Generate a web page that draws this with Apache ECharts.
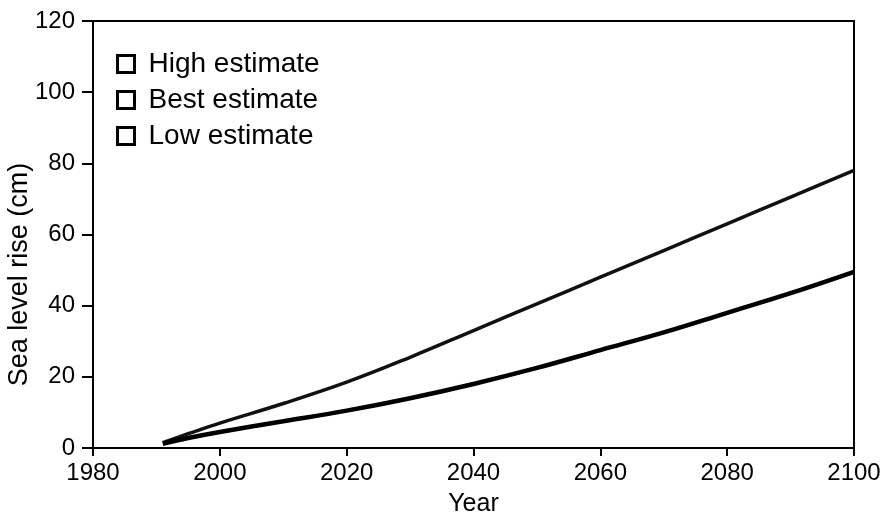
<!DOCTYPE html>
<html>
<head>
<meta charset="utf-8">
<script src="https://cdn.jsdelivr.net/npm/echarts@6/dist/echarts.min.js"></script>
<style>html,body{margin:0;padding:0;background:#fff;}#c{width:882px;height:525px;}</style>
</head>
<body>
<div id="c"></div>
<script>
var seriesNames = ['High estimate', 'Best estimate', 'Low estimate'];
var years = [1991, 1995, 2000, 2010, 2020, 2030, 2040, 2050, 2060, 2070, 2080, 2090, 2100];
var highValues = [1.5, 4, 7, 12.5, 18.5, 25.5, 33, 40.5, 48, 55.5, 63, 70.5, 78];
var bestValues = [1.2, 2.8, 4.5, 7.5, 10.5, 14, 18, 22.5, 27.5, 32.5, 38, 43.5, 49.5];
var lowValues = [];
var xTicks = [1980, 2000, 2020, 2040, 2060, 2080, 2100];
var yTicks = [0, 20, 40, 60, 80, 100, 120];

function pairs(xs, ys) { return ys.map(function (v, i) { return [xs[i], v]; }); }

var font = 'Liberation Sans, Arial, sans-serif';
var chart = echarts.init(document.getElementById('c'));
chart.setOption({
  animation: false,
  backgroundColor: '#fff',
  grid: { left: 93, right: 28, top: 21, bottom: 77, show: true, borderColor: '#000', borderWidth: 2, outerBoundsMode: 'none', containLabel: false },
  legend: {
    orient: 'vertical', left: 111, top: 45, itemGap: 8,
    icon: 'rect', itemWidth: 17, itemHeight: 17,
    itemStyle: { color: '#fff', borderColor: '#000', borderWidth: 3 },
    textStyle: { fontFamily: font, fontSize: 28, color: '#000', padding: [0, 0, 0, 9] },
    data: seriesNames
  },
  xAxis: {
    type: 'value', min: xTicks[0], max: xTicks[xTicks.length - 1], interval: 20,
    name: 'Year', nameLocation: 'middle', nameGap: 44, nameMoveOverlap: false,
    nameTextStyle: { fontFamily: font, fontSize: 25, color: '#000' },
    axisLine: { lineStyle: { color: '#000', width: 2 } },
    axisTick: { show: true, length: 8, lineStyle: { color: '#000', width: 2 } },
    axisLabel: { fontFamily: font, fontSize: 24, color: '#000', margin: 13, formatter: function (v) { return String(v); } },
    splitLine: { show: false }
  },
  yAxis: {
    type: 'value', min: yTicks[0], max: yTicks[yTicks.length - 1], interval: 20,
    name: 'Sea level rise (cm)', nameLocation: 'middle', nameGap: 60, nameMoveOverlap: false,
    nameTextStyle: { fontFamily: font, fontSize: 27, color: '#000', padding: [0, 80, 0, 0] },
    axisLine: { lineStyle: { color: '#000', width: 2 } },
    axisTick: { show: true, length: 11, lineStyle: { color: '#000', width: 2 } },
    axisLabel: { fontFamily: font, fontSize: 24, color: '#000', margin: 18, formatter: function (v) { return String(v); } },
    splitLine: { show: false }
  },
  series: [
    { name: seriesNames[0], type: 'line', data: pairs(years, highValues), showSymbol: false, smooth: 0.4,
      lineStyle: { color: '#111', width: 3.5 }, itemStyle: { color: '#111' } },
    { name: seriesNames[1], type: 'line', data: pairs(years, bestValues), showSymbol: false, smooth: 0.4,
      lineStyle: { color: '#000', width: 4.5 }, itemStyle: { color: '#000' } },
    { name: seriesNames[2], type: 'line', data: lowValues, showSymbol: false,
      lineStyle: { color: '#000', width: 3 }, itemStyle: { color: '#000' } }
  ]
});
</script>
</body>
</html>
